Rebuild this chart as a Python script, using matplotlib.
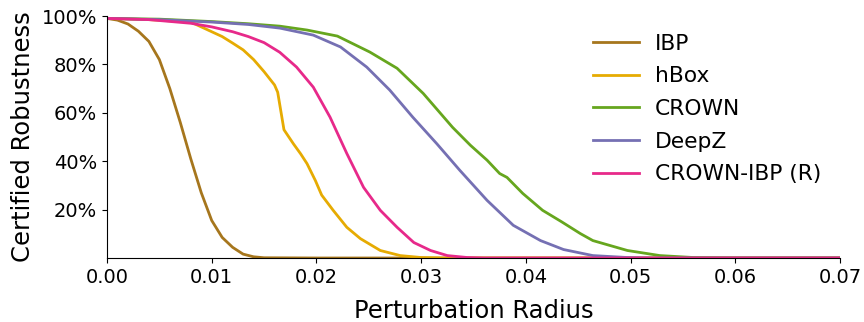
import matplotlib
matplotlib.use("Agg")
import matplotlib.pyplot as plt
from matplotlib.ticker import PercentFormatter

# ---- data ----
ibp_x = [0, 0.001, 0.002, 0.003, 0.004, 0.005, 0.006, 0.007, 0.008, 0.009, 0.010,
         0.011, 0.012, 0.013, 0.014, 0.015, 0.02, 0.07]
ibp_y = [0.99, 0.983, 0.967, 0.937, 0.895, 0.82, 0.70, 0.56, 0.41, 0.27, 0.155,
         0.085, 0.044, 0.016, 0.005, 0.001, 0, 0]

hbox_x = [0, 0.004, 0.008, 0.009, 0.010, 0.011, 0.012, 0.013, 0.014, 0.015, 0.016,
          0.0163, 0.0169, 0.0178, 0.0185, 0.0191, 0.0199, 0.0205, 0.0216, 0.0229,
          0.0242, 0.0261, 0.028, 0.030, 0.032, 0.07]
hbox_y = [0.99, 0.985, 0.975, 0.955, 0.935, 0.915, 0.888, 0.86, 0.82, 0.77, 0.715,
          0.685, 0.53, 0.472, 0.43, 0.39, 0.32, 0.26, 0.197, 0.127,
          0.08, 0.031, 0.01, 0.002, 0, 0]

crown_x = [0, 0.005, 0.010, 0.0135, 0.0165, 0.0191, 0.022, 0.0251, 0.0277, 0.0302,
           0.033, 0.0347, 0.0363, 0.0375, 0.0382, 0.0397, 0.0416, 0.0434, 0.0452,
           0.0464, 0.0497, 0.0528, 0.056, 0.06, 0.07]
crown_y = [0.99, 0.987, 0.977, 0.968, 0.958, 0.942, 0.917, 0.851, 0.784, 0.68,
           0.54, 0.466, 0.404, 0.349, 0.333, 0.267, 0.197, 0.15, 0.101,
           0.072, 0.031, 0.01, 0.002, 0, 0]

deepz_x = [0, 0.005, 0.010, 0.0135, 0.0165, 0.0197, 0.0223, 0.0248, 0.027, 0.0292,
           0.0315, 0.0337, 0.0363, 0.0388, 0.0414, 0.0436, 0.0464, 0.0497, 0.052, 0.07]
deepz_y = [0.99, 0.985, 0.975, 0.965, 0.95, 0.921, 0.872, 0.789, 0.694, 0.582,
           0.472, 0.362, 0.238, 0.135, 0.072, 0.035, 0.01, 0.002, 0, 0]

cibp_x = [0, 0.004, 0.008, 0.010, 0.012, 0.0135, 0.015, 0.0165, 0.0181, 0.0197,
          0.0213, 0.0229, 0.0245, 0.0261, 0.0277, 0.0293, 0.0309, 0.0325, 0.0344,
          0.036, 0.07]
cibp_y = [0.99, 0.985, 0.97, 0.955, 0.935, 0.915, 0.89, 0.85, 0.789, 0.706,
          0.582, 0.432, 0.292, 0.197, 0.127, 0.064, 0.031, 0.01, 0.002,
          0, 0]

labels = ["IBP", "hBox", "CROWN", "DeepZ", "CROWN-IBP (R)"]
colors = ["#a6761d", "#e6ab02", "#66a61e", "#7570b3", "#e7298a"]
xticks = [0.00, 0.01, 0.02, 0.03, 0.04, 0.05, 0.06, 0.07]
yticks = [0.2, 0.4, 0.6, 0.8, 1.0]

series = [(ibp_x, ibp_y), (hbox_x, hbox_y), (crown_x, crown_y),
          (deepz_x, deepz_y), (cibp_x, cibp_y)]

fig = plt.figure(figsize=(8.64, 3.22), dpi=100)
ax = fig.add_axes([107/864, 1 - 258/322, (840-107)/864, (258-16)/322])

for (xs, ys), lab, c in zip(series, labels, colors):
    ax.plot(xs, ys, color=c, lw=2, label=lab)

ax.set_xlim(0, 0.07)
ax.set_ylim(0, 1.0)
ax.set_xticks(xticks)
ax.set_xticklabels([f"{t:.2f}" for t in xticks])
ax.set_yticks(yticks)
ax.yaxis.set_major_formatter(PercentFormatter(1.0, decimals=0))
ax.tick_params(labelsize=14)
for s in ["top", "right"]:
    ax.spines[s].set_visible(False)
ax.set_xlabel("Perturbation Radius", fontsize=17.5, labelpad=9)
ax.set_ylabel("Certified Robustness", fontsize=17.5, labelpad=5)
fig.legend(loc="upper left", bbox_to_anchor=(584/864, 1 - 25/322), frameon=False,
           fontsize=15.7, handlelength=2.1, handletextpad=0.75, labelspacing=0.58,
           borderaxespad=0)

fig.savefig("out.png", dpi=100)
